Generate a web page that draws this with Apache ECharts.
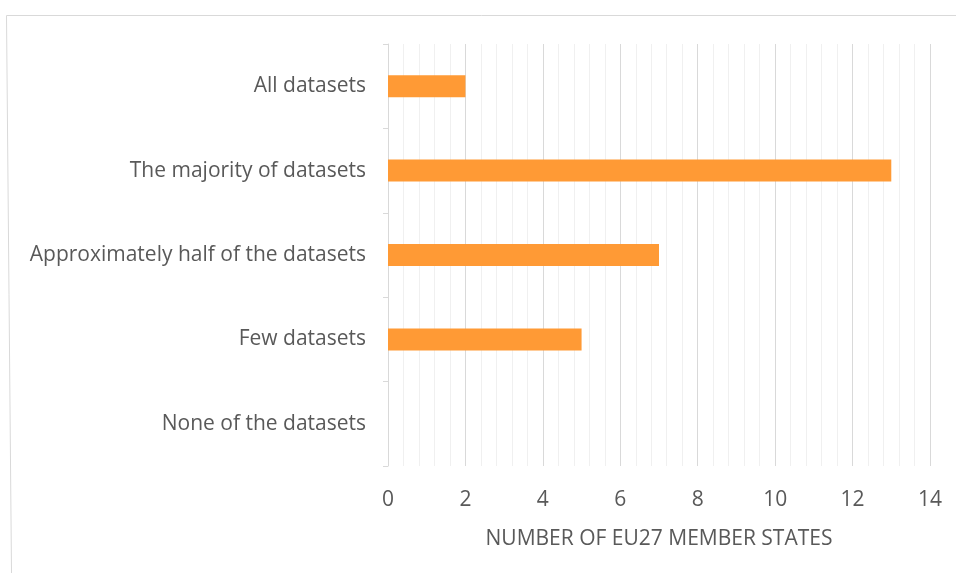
<!DOCTYPE html>
<html>
<head>
<meta charset="utf-8">
<script src="https://cdn.jsdelivr.net/npm/echarts@6/dist/echarts.min.js"></script>
<style>
html, body { margin: 0; padding: 0; background: #fff; }
#chart { width: 956px; height: 573px; }
</style>
</head>
<body>
<div id="chart"></div>
<script>
var categories = ['None of the datasets', 'Few datasets', 'Approximately half of the datasets', 'The majority of datasets', 'All datasets'];
var memberStates = [0, 5, 7, 13, 2];
var axisName = 'NUMBER OF EU27 MEMBER STATES';

var chart = echarts.init(document.getElementById('chart'));
chart.setOption({
    animation: false,
    textStyle: { fontFamily: 'Open Sans' },
    graphic: [
        {
            type: 'polyline',
            shape: { points: [[956, 15.5], [6.5, 15.5], [11.5, 573]] },
            style: { stroke: '#d9d9d9', fill: null, lineWidth: 1 },
            silent: true
        }
    ],
    grid: {
        left: 388,
        right: 26,
        top: 44,
        bottom: 107
    },
    xAxis: {
        type: 'value',
        min: 0,
        max: 14,
        interval: 2,
        name: axisName,
        nameLocation: 'middle',
        nameGap: 63,
        nameTextStyle: { color: '#595959', fontSize: 21 },
        axisLine: { show: false },
        axisTick: { show: false },
        axisLabel: { color: '#595959', fontSize: 21, margin: 24 },
        splitLine: { show: true, lineStyle: { color: '#d9d9d9', width: 1 } },
        minorTick: { show: false, splitNumber: 5 },
        minorSplitLine: { show: true, lineStyle: { color: '#f0f0f0', width: 1 } }
    },
    yAxis: {
        type: 'category',
        data: categories,
        axisLine: { show: true, lineStyle: { color: '#d9d9d9' } },
        axisTick: { show: true, length: 5, lineStyle: { color: '#d9d9d9' } },
        axisLabel: { color: '#595959', fontSize: 21, margin: 22 },
        splitLine: { show: false }
    },
    series: [
        {
            name: axisName,
            type: 'bar',
            data: memberStates,
            barWidth: 22,
            itemStyle: { color: '#ff9a35' }
        }
    ]
});
</script>
</body>
</html>
